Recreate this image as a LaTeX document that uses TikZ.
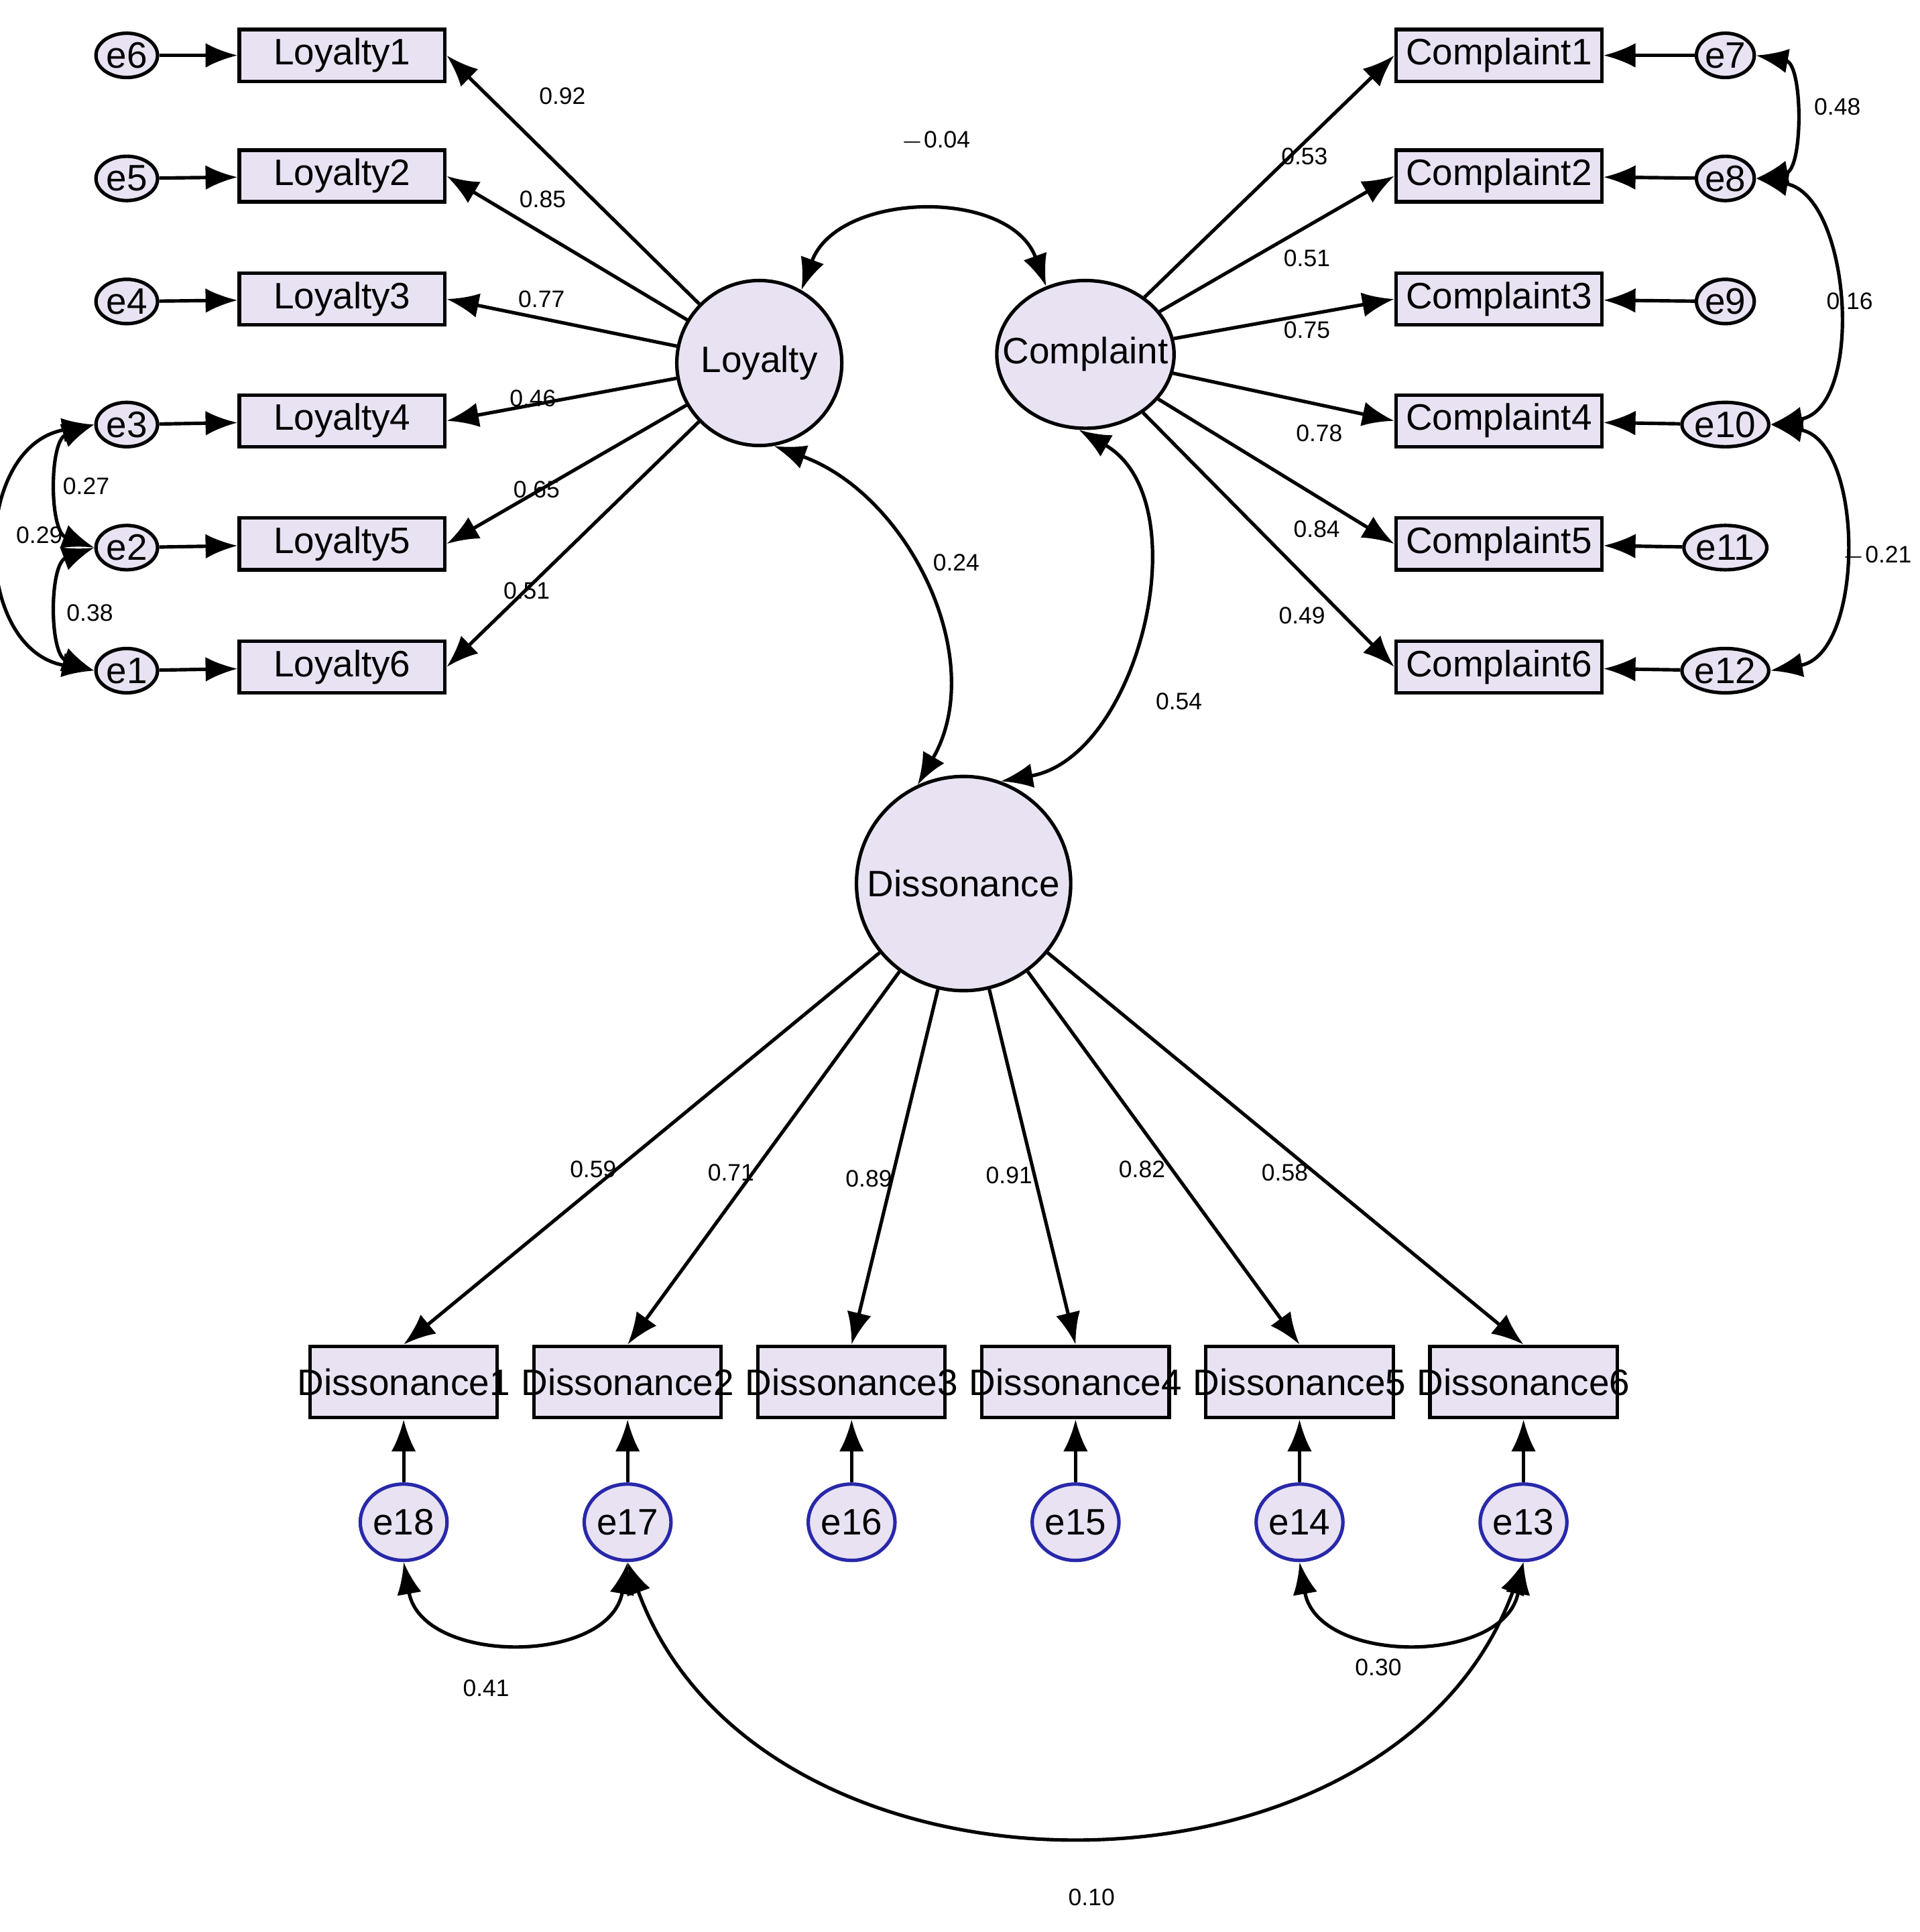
\documentclass[tikz,border=0pt]{standalone}
\usepackage{fontspec}
\setmainfont{Liberation Sans}
\usetikzlibrary{arrows.meta,shapes.geometric}
\definecolor{boxfill}{RGB}{232,226,242}
\definecolor{errblue}{RGB}{40,40,170}
\begin{document}
\begin{tikzpicture}[x=0.01cm,y=-0.01cm,
    obs/.style={draw,thick,fill=boxfill,minimum width=1.67cm,minimum height=0.42cm,inner sep=0pt},
    dobs/.style={obs,minimum width=1.52cm,minimum height=0.58cm},
    err/.style={draw,thick,ellipse,fill=boxfill,minimum width=0.5cm,minimum height=0.36cm,inner sep=0pt,font=\fontsize{8.5}{9}\selectfont},
    derr/.style={err,draw=errblue,minimum width=0.64cm,minimum height=0.62cm},
    lat/.style={draw,thick,fill=boxfill,inner sep=0pt,font=\fontsize{8.5}{9}\selectfont},
    path/.style={thick,-{Latex[length=0.26cm,width=0.2cm]}},
    cov/.style={thick,{Latex[length=0.26cm,width=0.2cm]}-{Latex[length=0.26cm,width=0.2cm]}},
    est/.style={font=\fontsize{5.5}{6}\selectfont},
    lab/.style={font=\fontsize{8.5}{9}\selectfont}]
    \useasboundingbox (0,0) rectangle (1560,1570);

    % latent variables
    \node[lat,circle,minimum size=1.34cm] (L) at (617,295) {};
    \node[lab] at (617,295) {Loyalty};
    \node[lat,ellipse,minimum width=1.44cm,minimum height=1.2cm] (C) at (882,288) {};
    \node[lab] at (882,288) {Complaint};
    \node[lat,circle,minimum size=1.74cm] (D) at (783,718) {};
    \node[lab] at (783,718) {Dissonance};

    % loyalty and complaint indicators
    \foreach \i/\y in {1/45,2/143,3/243,4/342,5/442,6/542} {
        \node[obs] (l\i) at (278,\y) {};
        \node[lab] at (278,\y) {Loyalty\i};
        \draw[path] (L) -- (l\i.east);
        \node[obs] (c\i) at (1218,\y) {};
        \node[lab] at (1218,\y) {Complaint\i};
        \draw[path] (C) -- (c\i.west);
    }
    \foreach \e/\i in {6/1,5/2,4/3,3/4,2/5,1/6} {
        \node[err] (e\e) at (103,{\i*100-55}) {e\e};
        \draw[path] (e\e) -- (l\i);
    }
    \foreach \e/\i in {7/1,8/2,9/3,10/4,11/5,12/6} {
        \node[err,minimum width=0.46cm] (e\e) at (1402,{\i*100-55}) {e\e};
        \draw[path] (e\e) -- (c\i);
    }

    % dissonance indicators
    \foreach \i/\e in {1/18,2/17,3/16,4/15,5/14,6/13} {
        \node[dobs] (d\i) at ({146+182*\i},1123) {};
        \node[lab] at ({146+182*\i},1123) {Dissonance\i};
        \draw[path] (D) -- (d\i.north);
        \node[derr] (e\e) at ({146+182*\i},1237) {e\e};
        \draw[path] (e\e) -- (d\i);
    }

    % loadings
    \foreach \v/\x/\y in {0.92/457/78,0.85/441/162,0.77/440/243,0.46/433/324,0.65/436/398,0.51/428/480,
        0.53/1060/127,0.51/1062/210,0.75/1062/268,0.78/1072/352,0.84/1070/430,0.49/1058/500,
        0.59/482/950,0.71/594/953,0.89/706/958,0.91/820/955,0.82/928/950,0.58/1044/953}
        \node[est] at (\x,\y) {\v};

    % covariances
    \draw[cov] (L.60) to[out=70,in=110,looseness=1.1] (C.120);
    \node[est] at (760,115) {$-$0.04};
    \draw[cov] (L.-80) to[out=-20,in=60] (D.115);
    \node[est] at (777,457) {0.24};
    \draw[cov] (C.-95) to[out=-30,in=10] (D.70);
    \node[est] at (958,570) {0.54};

    \draw[cov] (e3.west) to[out=200,in=160] (e2.west);
    \node[est] at (70,395) {0.27};
    \draw[cov] (e2.west) to[out=200,in=160] (e1.west);
    \node[est] at (73,498) {0.38};
    \draw[cov] (e3.west) to[out=190,in=170,looseness=1.3] (e1.west);
    \node[est] at (32,435) {0.29};

    \draw[cov] (e7.east) to[out=-10,in=10] (e8.east);
    \node[est] at (1493,87) {0.48};
    \draw[cov] (e8.east) to[out=-10,in=10] (e10.east);
    \node[est] at (1503,245) {0.16};
    \draw[cov] (e10.east) to[out=-10,in=10] (e12.east);
    \node[est] at (1525,452) {$-$0.21};

    \draw[cov] (e18.south) to[out=-80,in=-100,looseness=1.2] (e17.south);
    \node[est] at (395,1372) {0.41};
    \draw[cov] (e14.south) to[out=-80,in=-100,looseness=1.2] (e13.south);
    \node[est] at (1120,1355) {0.30};
    \draw[cov] (e17.south) to[out=-70,in=-110,looseness=1.1] (e13.south);
    \node[est] at (887,1542) {0.10};
\end{tikzpicture}
\end{document}
